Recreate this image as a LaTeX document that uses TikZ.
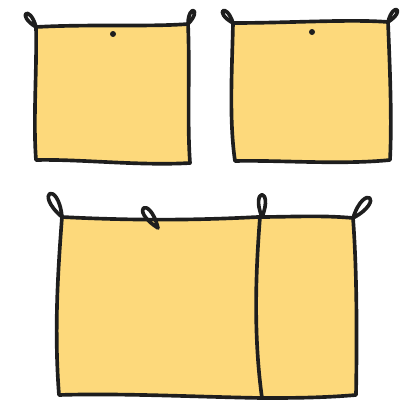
\documentclass[tikz,border=0pt]{standalone}
\usetikzlibrary{calc}
\definecolor{ink}{HTML}{1E1E1E}
\definecolor{cushionfill}{HTML}{FDD97B}
% Schlaufe: Ecke -> Spitze
\newcommand{\tieloop}[2]{\draw[outline] (#1) .. controls ($(#1)!1.6!22:(#2)$) and ($(#1)!1.6!-22:(#2)$) .. (#1);}
\begin{document}
\begin{tikzpicture}[x=0.025cm, y=-0.025cm,
    outline/.style={draw=ink, line width=2.6pt, line join=round, line cap=round},
    cushion/.style={outline, fill=cushionfill}]
  \useasboundingbox (0,0) rectangle (401,401);
  % --- Kissen oben links ---
  \begin{scope}
    \tieloop{36,27}{27,15}
    \tieloop{188,24}{193,12}
    \filldraw[cushion] (36,27) .. controls (90,24) and (150,27) .. (188,24)
      .. controls (190,70) and (187,120) .. (190,163)
      .. controls (140,166) and (80,159) .. (36,160)
      .. controls (33,120) and (37,70) .. cycle;
    \fill[ink] (113,34) circle (3);
  \end{scope}
  % --- Kissen oben rechts ---
  \begin{scope}
    \tieloop{233,23}{224,12}
    \tieloop{388,22}{396,11}
    \filldraw[cushion] (233,23) .. controls (290,23) and (350,19) .. (388,22)
      .. controls (390,70) and (392,120) .. (390,160)
      .. controls (340,165) and (280,160) .. (235,161)
      .. controls (229,120) and (232,70) .. cycle;
    \fill[ink] (312,32) circle (3);
  \end{scope}
  % --- Kissen unten, zweiteilig ---
  \begin{scope}
    \tieloop{62,217}{51,196}
    \tieloop{262,217}{262,197}
    \tieloop{353,218}{368,200}
    \filldraw[cushion] (62,217) .. controls (140,221) and (200,220) .. (258,217)
      .. controls (290,217) and (320,215) .. (353,218)
      .. controls (357,270) and (357,340) .. (356,395)
      .. controls (320,398) and (290,398) .. (262,398)
      .. controls (200,397) and (120,393) .. (59,395)
      .. controls (54,330) and (58,270) .. cycle;
    % Trennnaht
    \draw[outline] (260,217) .. controls (255,280) and (254,340) .. (262,398);
    % mittlere Schlaufe liegt ueber der Kante
    \tieloop{158,228}{145,210}
  \end{scope}
\end{tikzpicture}
\end{document}
